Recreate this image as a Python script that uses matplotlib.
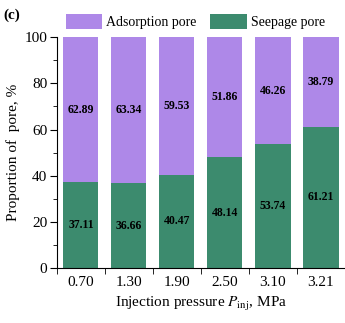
import matplotlib
matplotlib.use("Agg")
import matplotlib.pyplot as plt
import numpy as np
from matplotlib.ticker import MultipleLocator, FixedLocator

categories = ["0.70", "1.30", "1.90", "2.50", "3.10", "3.21"]
seepage = [37.11, 36.66, 40.47, 48.14, 53.74, 61.21]
adsorption = [62.89, 63.34, 59.53, 51.86, 46.26, 38.79]

plt.rcParams['font.family'] = ['Liberation Serif', 'DejaVu Serif']
plt.rcParams['mathtext.fontset'] = 'stix'

purple = "#AE88E8"
green = "#3C8B6E"

fig = plt.figure(figsize=(3.45, 3.23), dpi=100)
ax = fig.add_axes([0.165, 0.170, 0.835, 0.715])
x = np.arange(len(categories))
w = 0.73
b1 = ax.bar(x, seepage, width=w, color=green, label="Seepage pore")
b2 = ax.bar(x, adsorption, width=w, bottom=seepage, color=purple, label="Adsorption pore")

for i in range(len(x)):
    ax.text(x[i], seepage[i] / 2, f"{seepage[i]:.2f}", ha="center", va="center",
            fontsize=8.5, fontweight="bold", color="black")
    ax.text(x[i], seepage[i] + adsorption[i] / 2, f"{adsorption[i]:.2f}", ha="center", va="center",
            fontsize=8.5, fontweight="bold", color="black")

ax.set_xlim(-0.5, 5.5)
ax.set_ylim(0, 100)
ax.set_xticks(x)
ax.set_xticklabels(categories)
ax.xaxis.set_minor_locator(FixedLocator(np.arange(-0.5, 5.6, 1.0)))
ax.tick_params(axis="x", which="major", length=0, labelsize=11, pad=6)
ax.tick_params(axis="x", which="minor", length=4, direction="out")
ax.yaxis.set_major_locator(MultipleLocator(20))
ax.yaxis.set_minor_locator(MultipleLocator(10))
ax.tick_params(axis="y", which="major", length=5, direction="out", labelsize=11, pad=2)
ax.tick_params(axis="y", which="minor", length=3, direction="out")
for s in ["top", "right"]:
    ax.spines[s].set_visible(False)

ax.set_ylabel("Proportion of  pore, %", fontsize=11, labelpad=3)
ax.set_xlabel(r"Injection pressure $P_{\rm inj}$, MPa", fontsize=11, labelpad=4)

handles = [b2, b1]
fig.legend(handles, ["Adsorption pore", "Seepage pore"], loc="upper left",
           bbox_to_anchor=(0.175, 0.975), ncol=2, frameon=False, fontsize=10,
           handlelength=2.6, handleheight=1.3, columnspacing=1.0, handletextpad=0.3,
           borderaxespad=0)

fig.text(0.01, 0.975, "(c)", fontsize=11, fontweight="bold", va="top", ha="left")

fig.savefig("out.png", dpi=100)
